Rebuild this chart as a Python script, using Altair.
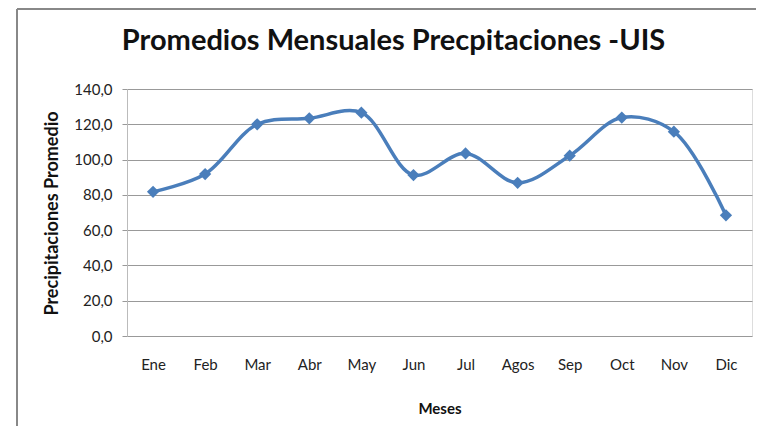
import altair as alt
import pandas as pd

meses = ["Ene", "Feb", "Mar", "Abr", "May", "Jun", "Jul", "Agos", "Sep", "Oct", "Nov", "Dic"]
precip = [81.7, 91.8, 120.0, 123.4, 126.6, 91.2, 103.5, 86.8, 102.2, 123.8, 115.8, 68.4]
y_ticks = [0, 20, 40, 60, 80, 100, 120, 140]

df = pd.DataFrame({"Mes": meses, "Precip": precip})

FONT = "Lato"
BLUE = "#4A7EBB"

x = alt.X("Mes:N", sort=meses, scale=alt.Scale(type="point", padding=0.5),
          axis=alt.Axis(title="Meses", labelAngle=0, ticks=False, domain=False,
                        labelPadding=21, labelFontSize=15, labelColor="#222",
                        labelFont=FONT, titleFont=FONT, titleFontSize=15,
                        titleFontWeight="bold", titleColor="#111",
                        titleY=72, titleBaseline="middle"))
y = alt.Y("Precip:Q", scale=alt.Scale(domain=[0, 140]),
          axis=alt.Axis(title="Precipitaciones Promedio", values=y_ticks,
                        labelExpr="replace(format(datum.value, '.1f'), '.', ',')",
                        tickSize=5, tickColor="#999", domainColor="#bbb",
                        gridColor="#999", labelPadding=10, labelFontSize=15,
                        labelColor="#222", labelFont=FONT, titleFont=FONT,
                        titleFontSize=18, titleFontWeight="bold", titleColor="#111",
                        titleX=-75, titleY=124, titleAngle=-90, titleBaseline="middle"))

line = alt.Chart(df).mark_line(color=BLUE, strokeWidth=3.5, interpolate="catmull-rom").encode(x=x, y=y)
pts = alt.Chart(df).mark_point(shape="diamond", filled=True, color=BLUE, size=150, opacity=1).encode(x=x, y=y)

border_left = alt.Chart(df).mark_rule(color="#888", strokeWidth=2).encode(
    x=alt.value(-110), y=alt.value(-80), y2=alt.value(400))
border_top = alt.Chart(df).mark_rule(color="#888", strokeWidth=2).encode(
    x=alt.value(-110), x2=alt.value(660), y=alt.value(-80))

chart = alt.layer(border_left, border_top, line, pts).properties(
    width=625, height=247,
    autosize=alt.AutoSizeParams(type="none"),
    padding={"left": 119, "top": 81, "right": 4, "bottom": 90},
    title=alt.TitleParams("Promedios Mensuales Precpitaciones -UIS", font=FONT,
                          fontSize=29, fontWeight="bold", color="#111",
                          anchor="middle", dx=-46, offset=-48),
).configure_view(stroke=None).configure(background="white")

chart.save("out.html", embed_options={"renderer": "svg", "actions": False})
